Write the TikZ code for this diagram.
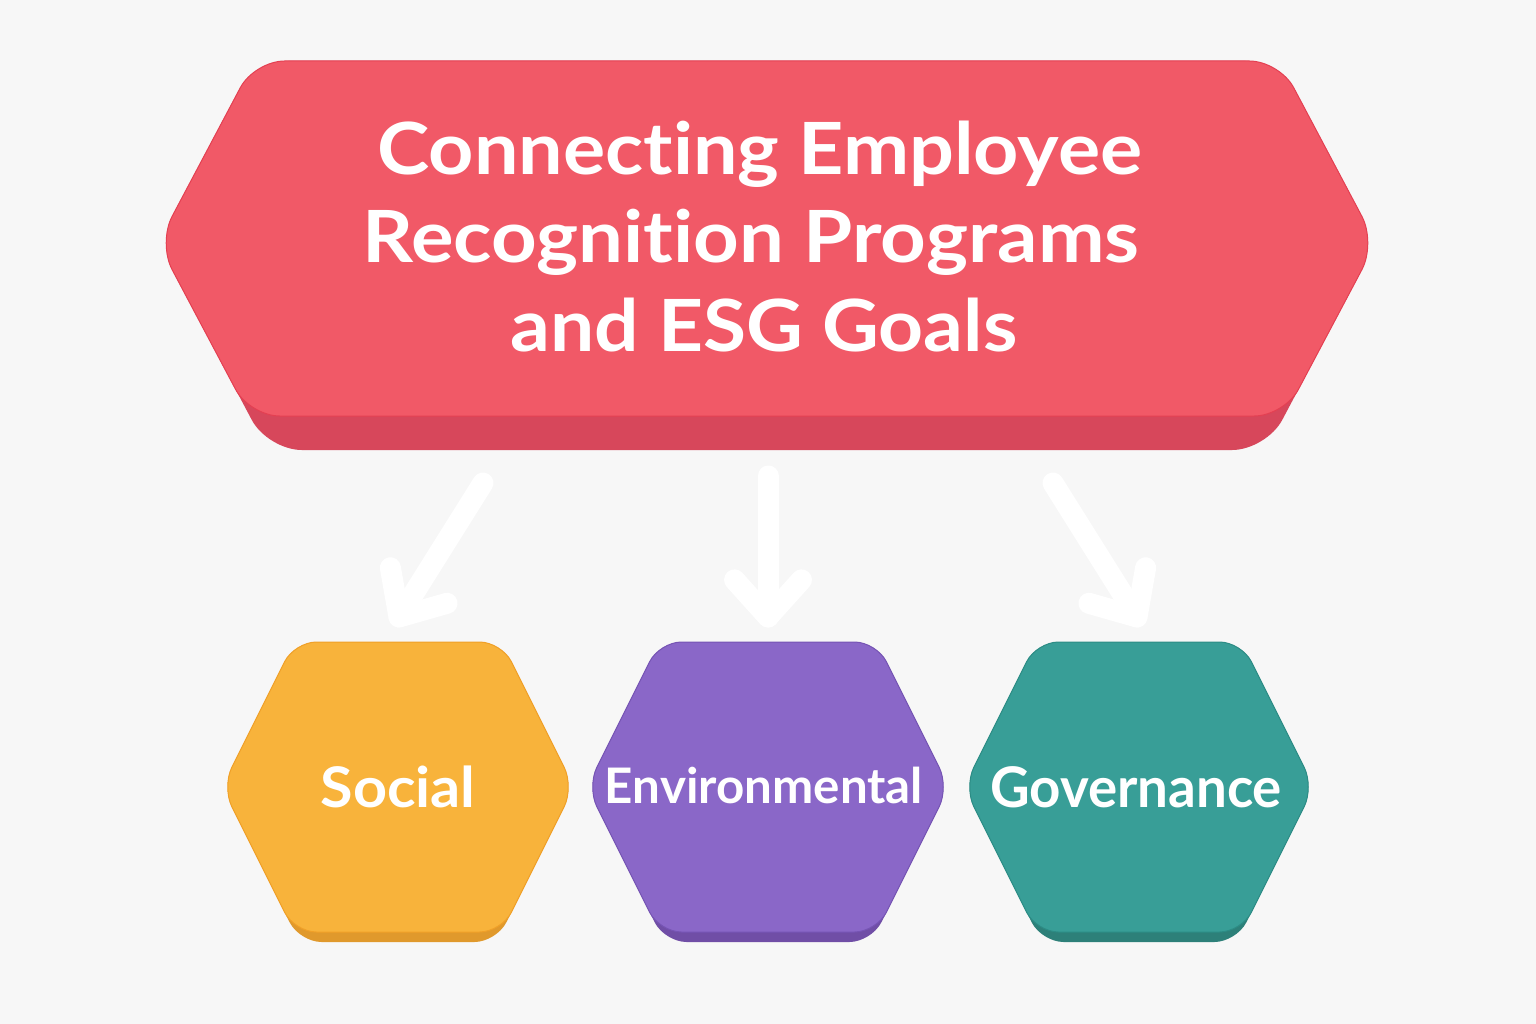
\documentclass[tikz,border=0pt]{standalone}
\usepackage{fontspec}
\setmainfont{Lato}[Ligatures={NoCommon}]
\usepackage{graphicx}
\usetikzlibrary{calc}
\definecolor{bg}{RGB}{247,247,247}
\definecolor{redFace}{RGB}{241,89,103}
\definecolor{redSide}{RGB}{215,71,91}
\definecolor{redEdge}{RGB}{228,64,82}
\definecolor{socFace}{RGB}{248,179,59}
\definecolor{socSide}{RGB}{224,153,44}
\definecolor{socEdge}{RGB}{240,160,40}
\definecolor{envFace}{RGB}{138,103,200}
\definecolor{envSide}{RGB}{112,78,166}
\definecolor{envEdge}{RGB}{118,84,180}
\definecolor{govFace}{RGB}{56,158,151}
\definecolor{govSide}{RGB}{45,128,121}
\definecolor{govEdge}{RGB}{44,140,133}
% #1 cx, #2 mid y, #3 half width at mid, #4 half height (top), #5 bottom y, #6 slope, #7 style
\newcommand\hexfill[7]{\fill[#7] (#1-#3+#6*#4,#2-#4) -- (#1+#3-#6*#4,#2-#4) -- (#1+#3,#2) -- (#1+#3-#6*#5+#6*#2,#5) -- (#1-#3+#6*#5-#6*#2,#5) -- (#1-#3,#2) -- cycle;}
\tikzset{
  titletext/.style={text=white, font=\fontsize{72}{88}\selectfont\bfseries, inner sep=0pt, anchor=base},
  lbl/.style={text=white, font=\fontsize{56}{64}\selectfont\bfseries, inner sep=0pt, anchor=base},
  arrowline/.style={draw=white, line width=21pt, line cap=round, line join=round}
}
\begin{document}
\begin{tikzpicture}[x=1pt,y=-1pt]
\fill[bg] (0,0) rectangle (1536,1024);
\useasboundingbox (0,0) rectangle (1536,1024);
% banner
\hexfill{767}{243}{609}{182}{450}{0.53}{redSide, rounded corners=34pt}
\hexfill{767}{243}{609}{182}{416}{0.53}{redFace, draw=redEdge, line width=1pt, rounded corners=30pt}
\node[titletext] (t1) at (760,175) {\resizebox{765pt}{\height}{Connecting Employee}};
\node[titletext] (t2) at (751,263) {\resizebox{777pt}{\height}{Recognition Programs}};
\node[titletext] (t3) at (764,351) {\resizebox{507pt}{\height}{and ESG Goals}};
% social
\hexfill{398}{787}{176}{145}{942}{0.5}{socSide, rounded corners=22pt}
\hexfill{398}{787}{176}{145}{932}{0.5}{socFace, draw=socEdge, line width=1pt, rounded corners=22pt}
\node[lbl] (social) at (398,807) {\resizebox{155pt}{\height}{Social}};
% environmental
\hexfill{768}{787}{181}{145}{942}{0.5}{envSide, rounded corners=22pt}
\hexfill{768}{787}{181}{145}{932}{0.5}{envFace, draw=envEdge, line width=1pt, rounded corners=22pt}
\node[lbl, font=\fontsize{49}{60}\selectfont\bfseries] (env) at (764,803) {\resizebox{318pt}{\height}{Environmental}};
% governance
\hexfill{1139}{787}{175}{145}{942}{0.5}{govSide, rounded corners=22pt}
\hexfill{1139}{787}{175}{145}{932}{0.5}{govFace, draw=govEdge, line width=1pt, rounded corners=22pt}
\node[lbl] (gov) at (1136,807) {\resizebox{292pt}{\height}{Governance}};
% arrows
\coordinate (a1s) at (483,483); \coordinate (a1e) at (399,617);
\coordinate (a2s) at (768,476); \coordinate (a2e) at (768,617);
\coordinate (a3s) at (1053,483); \coordinate (a3e) at (1137,617);
\foreach \i in {1,2,3}{
  \draw[arrowline] (a\i s) -- (a\i e);
  \draw[arrowline] ($(a\i e)!50pt!42:(a\i s)$) -- (a\i e) -- ($(a\i e)!50pt!-42:(a\i s)$);
}
\end{tikzpicture}
\end{document}
